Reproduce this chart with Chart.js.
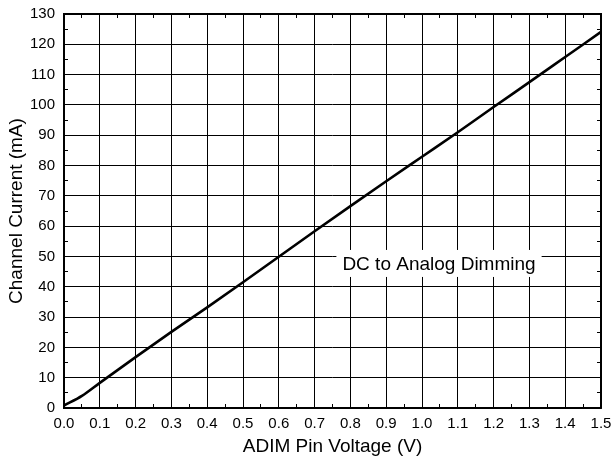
<!DOCTYPE html>
<html><head><meta charset="utf-8">
<script src="https://cdn.jsdelivr.net/npm/chart.js@4.4.1/dist/chart.umd.min.js"></script>
<style>html,body{margin:0;padding:0;background:#fff;}canvas{display:block;}</style>
</head><body>
<canvas id="c" width="611" height="463"></canvas>
<script>
// ---- data ----
const voltage = [0, 0.05, 0.1, 0.2, 0.3, 0.4, 0.5, 0.6, 0.7, 0.8, 0.9, 1.0, 1.1, 1.2, 1.3, 1.4, 1.5];
const current = [0.8, 4.0, 8.3, 16.8, 25.1, 33.2, 41.5, 49.9, 58.3, 66.6, 74.8, 82.9, 91.0, 99.3, 107.5, 115.8, 124.1];
const xTitle = 'ADIM Pin Voltage (V)';
const yTitle = 'Channel Current (mA)';
const curveLabel = 'DC to Analog Dimming';
const curveLabelAt = { x: 1.0475, y: 47.2 };   // data units
const xRange = [0, 1.5];
const yRange = [0, 130];
const xMajor = 0.1, xMinor = 0.05;
const yMajor = 10, yMinor = 5;

const FONT = "'Liberation Sans', Arial, Helvetica, sans-serif";
const isMul = (v, s) => Math.abs(v / s - Math.round(v / s)) < 1e-6;

const points = voltage.map((v, i) => ({ x: v, y: current[i] }));

const labelPlugin = {
  id: 'curveLabel',
  afterDatasetsDraw(chart) {
    const { ctx, scales } = chart;
    const cx = scales.x.getPixelForValue(curveLabelAt.x);
    const cy = scales.y.getPixelForValue(curveLabelAt.y);
    ctx.save();
    ctx.font = '19px ' + FONT;
    const w = ctx.measureText(curveLabel).width;
    ctx.fillStyle = '#fff';
    ctx.fillRect(cx - w / 2 - 6, cy - 15, w + 12, 27);
    ctx.fillStyle = '#000';
    ctx.textAlign = 'center';
    ctx.textBaseline = 'middle';
    ctx.fillText(curveLabel, cx, cy);
    ctx.restore();
  }
};

const gridCommon = (step) => ({
  color: (c) => (c.tick && isMul(c.tick.value, step)) ? '#000' : 'rgba(0,0,0,0)',
  lineWidth: 1,
  tickColor: '#000',
  tickLength: -4,
  tickWidth: 1
});

new Chart(document.getElementById('c'), {
  type: 'line',
  data: {
    datasets: [{
      data: points,
      borderColor: '#000',
      borderWidth: 2.6,
      pointRadius: 0,
      cubicInterpolationMode: 'monotone',
      fill: false
    }]
  },
  options: {
    responsive: false,
    animation: false,
    devicePixelRatio: 1,
    layout: { padding: { left: 0, right: 10, top: 14, bottom: 0 } },
    plugins: { legend: { display: false }, tooltip: { enabled: false } },
    scales: {
      x: {
        type: 'linear', position: 'bottom',
        min: xRange[0], max: xRange[1],
        grid: gridCommon(xMajor),
        border: { display: true, color: '#000', width: 1.5 },
        ticks: {
          stepSize: xMinor, autoSkip: false, maxRotation: 0, padding: 11,
          color: '#000', font: { family: FONT, size: 15 },
          callback: (v) => isMul(v, xMajor) ? Number(v).toFixed(1) : ''
        },
        title: { display: true, text: xTitle, color: '#000',
          font: { family: FONT, size: 19 }, padding: { top: 0, bottom: 4.6 } },
        afterFit: (s) => { s.height = 55; s.paddingLeft = 0; s.paddingRight = 0; }
      },
      x2: {
        type: 'linear', position: 'top',
        min: xRange[0], max: xRange[1],
        grid: Object.assign(gridCommon(xMajor), { drawOnChartArea: false }),
        border: { display: true, color: '#000', width: 1.5 },
        ticks: { stepSize: xMinor, autoSkip: false, display: false },
        afterFit: (s) => { s.height = 0; s.paddingLeft = 0; s.paddingRight = 0; }
      },
      y: {
        type: 'linear', position: 'left',
        min: yRange[0], max: yRange[1],
        grid: gridCommon(yMajor),
        border: { display: true, color: '#000', width: 1.5 },
        ticks: {
          stepSize: yMinor, autoSkip: false, padding: 13,
          color: '#000', font: { family: FONT, size: 15 },
          callback: (v) => isMul(v, yMajor) ? String(Math.round(v)) : ''
        },
        title: { display: true, text: yTitle, color: '#000',
          font: { family: FONT, size: 19 }, padding: { top: 5, bottom: 0 } },
        afterFit: (s) => { s.width = 64; s.paddingTop = 0; s.paddingBottom = 0; }
      },
      y2: {
        type: 'linear', position: 'right',
        min: yRange[0], max: yRange[1],
        grid: Object.assign(gridCommon(yMajor), { drawOnChartArea: false }),
        border: { display: true, color: '#000', width: 1.5 },
        ticks: { stepSize: yMinor, autoSkip: false, display: false },
        afterFit: (s) => { s.width = 0; s.paddingTop = 0; s.paddingBottom = 0; }
      }
    }
  },
  plugins: [labelPlugin]
});
</script>
</body></html>
